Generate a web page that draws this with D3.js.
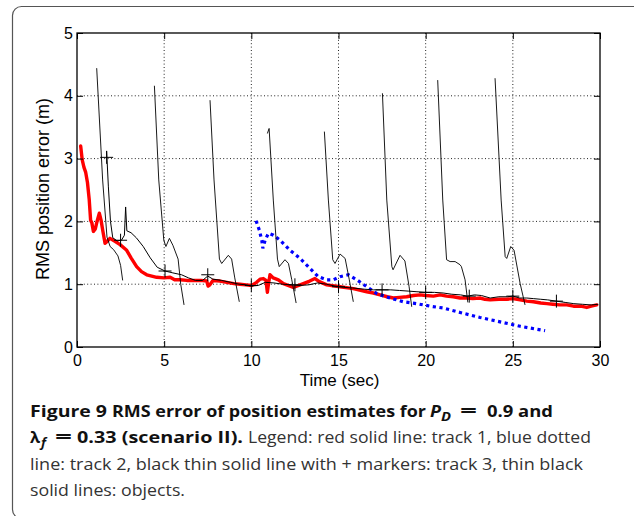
<!DOCTYPE html>
<html>
<head>
<meta charset="utf-8">
<script src="https://cdn.jsdelivr.net/npm/d3@7"></script>
<style>
  html, body { margin: 0; padding: 0; background: #fff; }
  svg { display: block; }
</style>
</head>
<body>
<svg id="fig" width="634" height="516"></svg>
<script>
// Axis ticks
const xTicks = [0, 5, 10, 15, 20, 25, 30];
const yTicks = [0, 1, 2, 3, 4, 5];

// Track 1 (red solid): [time s, RMS error m]
const track1 = [
  [0.21,3.2],[0.3,2.98],[0.4,2.86],[0.5,2.78],[0.6,2.62],[0.7,2.35],[0.78,2.02],[0.85,1.98],
  [0.94,1.84],[1.05,1.88],[1.15,2.0],[1.28,2.13],[1.38,2.02],[1.48,1.85],[1.61,1.65],[1.72,1.68],
  [1.89,1.73],[2.2,1.68],[2.47,1.63],[2.85,1.54],[3.1,1.42],[3.42,1.28],[3.7,1.2],[4.0,1.15],
  [4.57,1.11],[5.0,1.1],[5.34,1.11],[5.6,1.07],[5.91,1.07],[6.3,1.06],[6.67,1.06],[7.1,1.06],
  [7.44,1.05],[7.52,0.97],[7.62,0.99],[7.8,1.06],[8.2,1.05],[8.59,1.03],[9.0,1.01],[9.35,1.0],
  [9.7,0.99],[10.02,0.98],[10.3,1.03],[10.5,1.08],[10.69,1.09],[10.84,1.06],[10.92,0.87],[10.98,1.0],
  [11.07,1.15],[11.26,1.1],[11.55,1.07],[11.84,1.01],[12.41,0.95],[12.98,1.01],[13.35,1.05],[13.65,1.09],
  [13.9,1.04],[14.33,0.99],[15.09,0.96],[15.85,0.93],[16.62,0.88],[17.0,0.86],[17.39,0.83],[17.8,0.8],
  [18.15,0.78],[18.5,0.79],[18.91,0.8],[19.3,0.82],[19.68,0.83],[20.0,0.82],[20.44,0.81],[20.83,0.83],
  [21.2,0.81],[21.59,0.8],[21.97,0.78],[22.36,0.78],[22.7,0.77],[23.12,0.78],[23.4,0.76],[23.7,0.75],
  [24.2,0.76],[24.65,0.76],[25.0,0.77],[25.42,0.75],[25.8,0.73],[26.18,0.72],[26.6,0.7],[26.95,0.69],
  [27.3,0.68],[27.71,0.67],[28.1,0.67],[28.48,0.65],[28.9,0.65],[29.24,0.63],[29.5,0.65],[29.81,0.67]
];

// Track 2 (blue dotted)
const track2 = [
  [10.27,2.01],[10.46,1.86],[10.6,1.7],[10.66,1.57],[10.79,1.7],[10.98,1.81],[11.27,1.78],[11.65,1.7],
  [12.22,1.54],[12.8,1.41],[13.37,1.25],[13.84,1.12],[14.33,1.07],[14.71,1.07],[15.09,1.12],[15.57,1.15],
  [16.05,1.07],[16.62,0.96],[17.2,0.85],[17.96,0.78],[18.72,0.72],[19.49,0.69],[20.25,0.65],[21.02,0.62],
  [21.97,0.55],[23.12,0.47],[24.27,0.4],[25.42,0.33],[26.85,0.26]
];

// Track 3 (black thin with + markers)
const track3 = [
  [1.70,3.12],[1.80,2.55],[1.92,2.0],[2.05,1.74],[2.3,1.69],[2.55,1.7],[2.72,1.78],[2.79,2.23],
  [2.86,1.85],[3.1,1.82],[3.4,1.74],[3.8,1.6],[4.2,1.42],[4.6,1.27],[5.05,1.21],[5.5,1.18],
  [6.0,1.15],[6.4,1.1],[6.8,1.06],[7.2,1.06],[7.5,1.13],[7.8,1.08],[8.3,1.06],[8.8,1.03],
  [9.3,1.0],[9.7,0.99],[10.0,0.97],[10.4,0.98],[10.8,1.03],[11.3,1.02],[11.8,1.0],[12.3,0.99],
  [12.8,0.98],[13.3,0.99],[13.8,1.02],[14.3,1.0],[14.8,0.97],[15.3,0.95],[15.8,0.94],[16.5,0.92],
  [17.0,0.91],[17.5,0.91],[18.0,0.91],[18.5,0.9],[19.0,0.89],[19.5,0.88],[20.0,0.87],[20.5,0.87],
  [21.0,0.86],[21.5,0.84],[22.0,0.83],[22.4,0.81],[22.8,0.83],[23.2,0.82],[23.7,0.78],[24.2,0.8],
  [24.7,0.8],[25.0,0.81],[25.4,0.78],[25.8,0.78],[26.2,0.77],[26.6,0.76],[27.0,0.75],[27.5,0.73],
  [28.0,0.71],[28.5,0.69],[29.0,0.68],[29.5,0.67],[29.9,0.68]
];
const track3Markers = [
  [1.7,3.02],[2.5,1.7],[5.05,1.21],[7.5,1.15],[10.0,0.98],[12.5,0.99],[15.0,0.96],
  [17.5,0.91],[20.0,0.87],[22.5,0.81],[25.0,0.81],[27.5,0.73]
];

// Objects (thin black): one array per object
const objA = [[1.13,4.44],[1.47,2.66],[1.72,1.75],[1.9,1.6],[2.1,1.55],[2.35,1.45],[2.5,1.3],[2.62,1.06]];
const objB = [[4.44,4.16],[4.69,2.66],[4.98,1.7],[5.1,1.6],[5.3,1.73],[5.5,1.62],[5.8,1.4],[5.95,1.0],[6.14,0.67]];
const objC = [[7.63,3.93],[7.86,2.66],[8.17,1.4],[8.3,1.33],[8.68,1.46],[8.87,1.4],[9.05,1.1],[9.31,0.72]];
const objD = [[10.92,3.4],[11.02,3.48],[11.26,2.34],[11.5,1.4],[11.6,1.28],[11.93,1.39],[12.13,1.33],[12.32,1.07],[12.57,0.7]];
const objE = [[14.19,3.43],[14.42,2.34],[14.67,1.39],[14.8,1.33],[15.09,1.48],[15.38,1.41],[15.62,1.07],[15.85,0.72]];
const objF = [[17.52,4.04],[17.77,2.34],[18.06,1.28],[18.13,1.23],[18.53,1.46],[18.81,1.37],[19.05,0.96],[19.2,0.64]];
const objG = [[20.69,4.25],[20.98,2.34],[21.2,1.39],[21.4,1.36],[21.69,1.36],[21.97,1.31],[22.05,1.28],[22.26,1.07],[22.42,0.71]];
const objH = [[23.98,4.28],[24.33,2.34],[24.56,1.44],[24.65,1.41],[24.88,1.6],[25.07,1.54],[25.42,1.01],[25.7,0.67]];
const objects = [objA, objB, objC, objD, objE, objF, objG, objH];

const svg = d3.select("#fig");

// Rounded figure frame
svg.append("rect")
  .attr("x", 12.5).attr("y", 6.5)
  .attr("width", 660).attr("height", 512)
  .attr("rx", 9).attr("ry", 9)
  .attr("fill", "none").attr("stroke", "#555").attr("stroke-width", 1.2);

const L = 77, R = 600, T = 33, B = 347;
const x = d3.scaleLinear().domain([0, 30]).range([L, R]);
const y = d3.scaleLinear().domain([0, 5]).range([B, T]);

// Dotted grid
const grid = svg.append("g").attr("stroke", "#222").attr("stroke-width", 1)
  .attr("stroke-dasharray", "1,2.4").attr("fill", "none");
xTicks.filter(d => d > 0 && d < 30).forEach(d => {
  grid.append("line").attr("x1", x(d)).attr("x2", x(d)).attr("y1", T).attr("y2", B);
});
yTicks.filter(d => d > 0 && d < 5).forEach(d => {
  grid.append("line").attr("x1", L).attr("x2", R).attr("y1", y(d)).attr("y2", y(d));
});

const plot = svg.append("g");
const line = d3.line().x(d => x(d[0])).y(d => y(d[1]));

// Track 1
plot.append("path").datum(track1).attr("d", line)
  .attr("fill", "none").attr("stroke", "#ff0000").attr("stroke-width", 3.4)
  .attr("stroke-linejoin", "round").attr("stroke-linecap", "round");

// Track 2
plot.append("path").datum(track2).attr("d", line)
  .attr("fill", "none").attr("stroke", "#0000ff").attr("stroke-width", 3.2)
  .attr("stroke-dasharray", "3.2,3.5");

// Track 3 and markers
plot.append("path").datum(track3).attr("d", line)
  .attr("fill", "none").attr("stroke", "#000").attr("stroke-width", 1);
const ms = 6.5;
plot.selectAll("path.marker").data(track3Markers).join("path")
  .attr("class", "marker")
  .attr("d", d => `M${x(d[0]) - ms},${y(d[1])}H${x(d[0]) + ms}M${x(d[0])},${y(d[1]) - ms}V${y(d[1]) + ms}`)
  .attr("stroke", "#000").attr("stroke-width", 1).attr("fill", "none");

// Objects
plot.selectAll("path.obj").data(objects).join("path")
  .attr("class", "obj").attr("d", line)
  .attr("fill", "none").attr("stroke", "#000").attr("stroke-width", 0.9);

// Axes with inward ticks on all four sides
const font = "'Liberation Sans', Arial, Helvetica, sans-serif";
const ax = svg.append("g").attr("transform", `translate(0,${B})`)
  .call(d3.axisBottom(x).tickValues(xTicks).tickFormat(d3.format("d"))
    .tickSizeInner(-6).tickSizeOuter(0).tickPadding(8));
const ay = svg.append("g").attr("transform", `translate(${L},0)`)
  .call(d3.axisLeft(y).tickValues(yTicks).tickFormat(d3.format("d"))
    .tickSizeInner(-6).tickSizeOuter(0).tickPadding(4));
const at = svg.append("g").attr("transform", `translate(0,${T})`)
  .call(d3.axisTop(x).tickValues(xTicks).tickSizeInner(-6).tickSizeOuter(0).tickFormat(""));
const ar = svg.append("g").attr("transform", `translate(${R},0)`)
  .call(d3.axisRight(y).tickValues(yTicks).tickSizeInner(-6).tickSizeOuter(0).tickFormat(""));
[ax, ay, at, ar].forEach(g => {
  g.select(".domain").remove();
  g.selectAll("line").attr("stroke", "#000").attr("stroke-width", 1);
  g.selectAll("text").attr("font-family", font).attr("font-size", 16).attr("fill", "#000");
});
svg.append("rect").attr("x", L).attr("y", T).attr("width", R - L).attr("height", B - T)
  .attr("fill", "none").attr("stroke", "#000").attr("stroke-width", 1.3);

// Axis titles
svg.append("text").attr("x", (L + R) / 2 + 1).attr("y", 386)
  .attr("text-anchor", "middle").attr("font-family", font).attr("font-size", 17)
  .text("Time (sec)");
svg.append("text").attr("transform", "translate(49,189) rotate(-90)")
  .attr("text-anchor", "middle").attr("font-family", font).attr("font-size", 18)
  .text("RMS position error (m)");

// Caption
const cap = svg.append("g").attr("font-family", "'Open Sans', 'Noto Sans', sans-serif");
const segs = [
  {t: "Figure 9", x: 30, y: 417, w: 77, b: true},
  {t: "RMS error of position estimates for", x: 112, y: 417, w: 314, b: true},
  {t: "P", x: 430, y: 417, w: 11, b: true, i: true},
  {t: "D", x: 441, y: 421, w: 10, b: true, i: true, s: 12.5},
  {t: "=", x: 460, y: 417, w: 17, b: true, s: 18},
  {t: "0.9 and", x: 487, y: 417, w: 66, b: true},
  {t: "λ", x: 30, y: 443, w: 10, b: true},
  {t: "f", x: 41, y: 447, w: 5, b: true, i: true, s: 12},
  {t: "=", x: 55, y: 443, w: 17, b: true, s: 18},
  {t: "0.33 (scenario II).", x: 77, y: 443, w: 166, b: true},
  {t: "Legend: red solid line: track 1, blue dotted", x: 248, y: 443, w: 343},
  {t: "line: track 2, black thin solid line with + markers: track 3, thin black", x: 30, y: 470, w: 553},
  {t: "solid lines: objects.", x: 30, y: 496, w: 155}
];
cap.selectAll("text").data(segs).join("text")
  .attr("x", d => d.x).attr("y", d => d.y)
  .attr("font-size", d => d.s || 16.5)
  .attr("font-weight", d => d.b ? 700 : 400)
  .attr("font-style", d => d.i ? "italic" : "normal")
  .attr("fill", d => d.b ? "#111" : "#333")
  .attr("textLength", d => d.w)
  .attr("lengthAdjust", "spacingAndGlyphs")
  .text(d => d.t);
</script>
</body>
</html>
